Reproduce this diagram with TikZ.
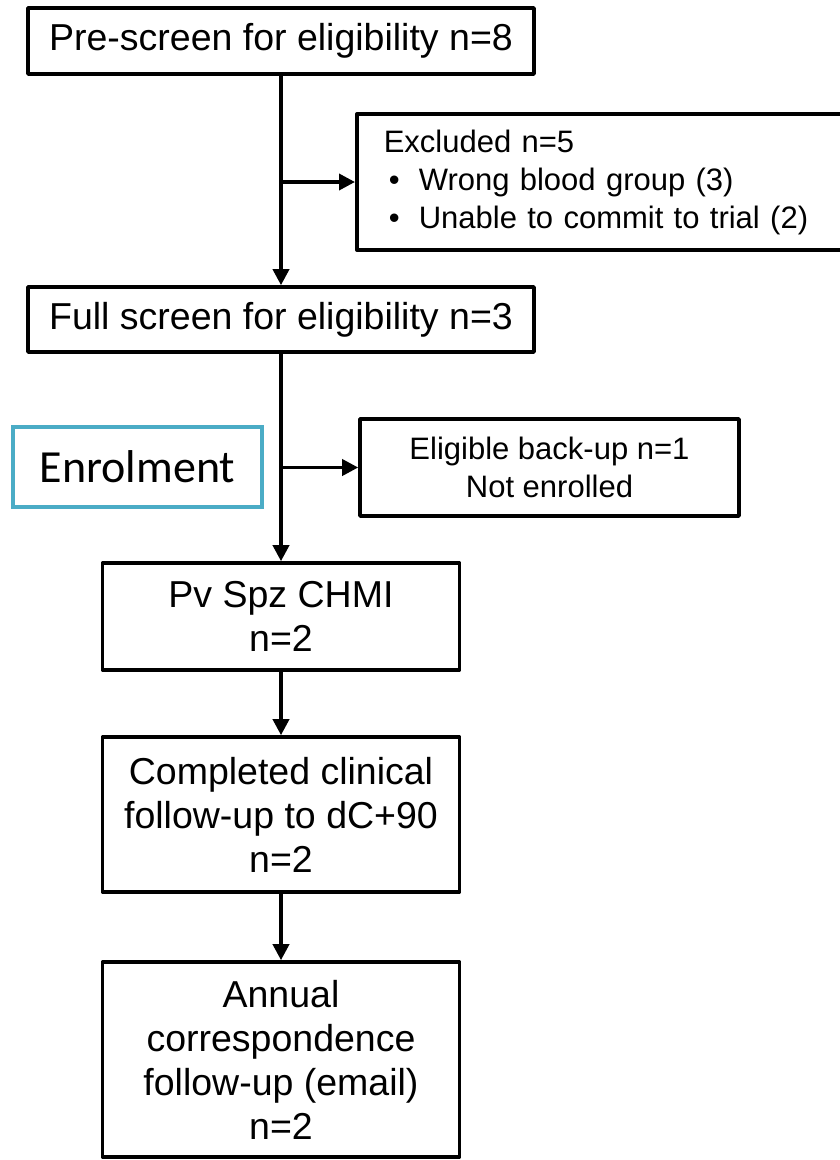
\documentclass[tikz,border=0pt]{standalone}
\usepackage{fontspec}
\setmainfont{Liberation Sans}
\newfontfamily\enrolfont{Carlito}
\usetikzlibrary{arrows.meta}
\definecolor{enrolteal}{RGB}{75,172,198}
\newcommand{\bul}{\hspace*{5pt}\makebox[30pt][l]{\textbullet}}

\begin{document}
\begin{tikzpicture}[x=1pt,y=-1pt,
		stepbox/.style={draw=black,line width=3.6pt,line join=round,inner sep=0pt,align=center,
			font=\fontsize{37.5}{44}\selectfont},
		sidebox/.style={stepbox,font=\fontsize{31}{38}\selectfont},
		flow/.style={line width=3.6pt,-{Triangle[length=16pt,width=16pt]}}]
		\useasboundingbox (0,0) rectangle (839,1160);

		% main column
		\node[stepbox,minimum width=506pt,minimum height=66pt] (pre) at (281,41) {Pre-screen for eligibility n=8};
		\node[stepbox,minimum width=506pt,minimum height=65pt] (full) at (281,319.5) {Full screen for eligibility n=3};
		\node[stepbox,minimum width=357pt,minimum height=107pt] (chmi) at (281,616.5) {Pv Spz CHMI\\n=2};
		\node[stepbox,minimum width=357pt,minimum height=155pt] (done) at (281,814.5) {Completed clinical\\follow-up to dC+90\\n=2};
		\node[stepbox,minimum width=357pt,minimum height=195pt] (annual) at (281,1059.5) {Annual\\correspondence\\follow-up (email)\\n=2};

		% side boxes
		\node[sidebox,anchor=west,align=left,text width=441pt,inner xsep=27pt,minimum height=136pt] (excl) at (355,182)
			{Excluded n=5\\\bul Wrong blood group (3)\\\bul Unable to commit to trial (2)};
		\node[sidebox,minimum width=379pt,minimum height=97pt] (backup) at (549.5,467.5) {Eligible back-up n=1\\Not enrolled};
		\node[draw=enrolteal,line width=4pt,inner sep=0pt,minimum width=249pt,minimum height=80pt,
			font=\enrolfont\fontsize{46}{52}\selectfont] (enrol) at (137.5,467) {Enrolment};

		% connectors
		\coordinate (j1) at (pre.south |- excl.west);
		\coordinate (j2) at (full.south |- backup.west);
		\draw[flow] (pre) -- (full);
		\draw[flow] (j1) -- (excl.west);
		\draw[flow] (full) -- (chmi);
		\draw[flow] (j2) -- (backup.west);
		\draw[flow] (chmi) -- (done);
		\draw[flow] (done) -- (annual);
	\end{tikzpicture}
\end{document}
